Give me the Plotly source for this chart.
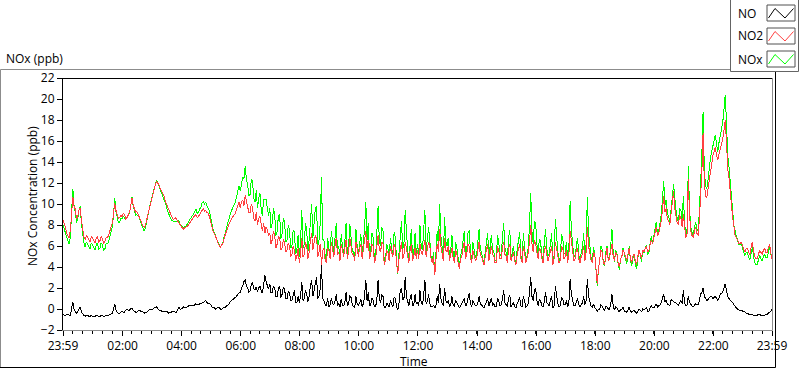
import pandas as pd
import plotly.graph_objects as go

# ---------------- data (2.5-minute samples from 23:59 to 23:59, one row per hour) ----------------
start_time = "2023-12-31 23:59"
sample_step = "150s"

NO2 = [
    8.5, 8.2, 7.8, 7.2, 7.0, 6.8, 7.5, 9.2, 10.7, 9.8, 9.5, 8.6, 8.8, 9.4, 9.6, 8.4, 7.5, 6.9, 6.6, 7.0, 6.8, 6.6, 6.4, 6.9,
    6.8, 6.5, 6.3, 6.7, 6.9, 6.4, 6.5, 6.9, 6.7, 6.3, 6.4, 6.8, 6.8, 7.0, 7.4, 7.8, 8.2, 9.0, 10.1, 9.4, 9.0, 8.6, 8.7, 8.9,
    8.8, 9.1, 9.0, 8.6, 8.7, 9.0, 9.2, 9.8, 10.6, 9.9, 9.5, 9.2, 9.3, 9.0, 8.8, 8.5, 8.2, 7.9, 7.8, 8.0, 8.5, 9.0, 9.6, 10.1,
    10.6, 11.0, 11.3, 11.8, 12.1, 12.0, 11.8, 11.4, 11.2, 11.0, 10.8, 10.3, 10.0, 9.6, 9.4, 9.1, 8.8, 8.6, 8.5, 8.7, 8.6, 8.4, 8.3, 8.1,
    7.9, 7.7, 7.6, 7.8, 7.8, 7.9, 8.0, 8.2, 8.4, 8.6, 8.7, 8.9, 9.0, 8.7, 8.8, 9.0, 9.2, 9.5, 9.6, 9.3, 9.4, 9.2, 9.1, 8.8,
    8.3, 7.8, 7.4, 7.2, 6.9, 6.5, 6.2, 6.0, 5.9, 6.1, 6.3, 6.8, 7.2, 7.5, 7.8, 8.1, 8.4, 8.6, 8.8, 9.0, 9.1, 9.5, 9.9, 10.2,
    9.6, 10.2, 10.4, 9.8, 10.8, 10.2, 9.8, 9.2, 9.2, 10.0, 9.6, 8.6, 8.4, 9.2, 8.0, 8.6, 8.8, 7.8, 7.4, 8.2, 7.2, 7.8, 7.6, 7.0,
    7.2, 6.2, 6.6, 7.4, 7.0, 5.8, 6.2, 6.9, 6.8, 5.6, 5.8, 6.6, 6.4, 5.4, 5.6, 6.3, 6.0, 5.0, 5.2, 6.0, 5.6, 4.6, 5.0, 5.8,
    4.4, 5.2, 6.8, 5.0, 5.2, 6.4, 6.0, 4.8, 5.4, 6.6, 7.2, 5.6, 6.2, 7.0, 6.8, 5.0, 5.4, 6.2, 4.2, 5.6, 5.8, 4.6, 4.4, 5.8,
    5.6, 4.8, 6.4, 5.6, 5.0, 6.0, 6.8, 5.2, 5.4, 4.6, 6.2, 5.6, 5.0, 5.8, 6.6, 4.8, 5.4, 6.8, 6.0, 5.2, 5.2, 4.6, 6.4, 5.4,
    5.0, 5.8, 6.2, 4.8, 5.6, 6.4, 7.4, 5.8, 6.6, 4.8, 5.2, 6.2, 6.0, 4.4, 4.8, 6.0, 7.0, 5.6, 5.4, 6.4, 6.2, 4.2, 4.6, 5.6,
    5.4, 4.6, 6.0, 5.4, 5.0, 6.2, 5.8, 4.4, 3.4, 4.8, 5.6, 6.4, 4.8, 5.2, 6.4, 5.6, 5.0, 4.4, 5.6, 6.2, 4.6, 5.0, 5.8, 4.8,
    5.6, 4.8, 6.2, 5.4, 5.2, 6.0, 6.6, 5.0, 5.8, 6.4, 6.0, 4.8, 4.4, 5.0, 3.2, 4.6, 6.2, 5.4, 7.6, 6.0, 5.2, 4.6, 6.8, 5.6,
    5.4, 6.0, 4.6, 5.2, 5.8, 4.8, 4.4, 5.6, 5.2, 4.4, 3.8, 4.8, 5.0, 5.8, 6.4, 4.8, 5.2, 6.2, 6.0, 5.0, 4.4, 5.6, 5.2, 4.6,
    4.8, 5.6, 6.4, 5.2, 5.0, 4.6, 4.2, 5.0, 5.6, 6.2, 4.6, 5.4, 6.0, 5.2, 5.0, 4.4, 4.4, 6.0, 5.6, 4.8, 4.8, 5.8, 6.4, 5.2,
    5.0, 4.4, 5.8, 6.2, 4.6, 5.0, 5.4, 4.6, 4.2, 5.2, 5.6, 6.2, 4.8, 4.4, 6.0, 5.4, 4.4, 4.8, 5.4, 6.4, 8.0, 6.2, 5.4, 6.6,
    6.2, 5.4, 4.8, 5.8, 5.6, 4.8, 4.4, 5.6, 6.0, 5.2, 4.6, 5.0, 5.4, 6.0, 4.2, 4.8, 6.4, 5.6, 5.0, 4.4, 4.6, 6.0, 5.8, 4.8,
    5.0, 5.6, 4.4, 5.2, 7.4, 6.2, 5.6, 4.6, 4.8, 5.6, 5.8, 4.8, 4.4, 5.0, 5.2, 6.0, 4.6, 5.4, 7.8, 6.0, 5.2, 4.6, 4.4, 5.4,
    5.2, 4.0, 2.4, 3.8, 4.6, 5.6, 5.4, 4.4, 4.2, 5.2, 5.8, 4.6, 4.8, 5.6, 6.2, 5.0, 4.6, 5.4, 5.2, 4.4, 4.0, 4.8, 5.0, 5.6,
    5.4, 5.0, 4.6, 5.2, 5.8, 4.8, 4.4, 5.0, 5.2, 4.6, 4.2, 5.0, 5.6, 5.2, 4.8, 5.6, 5.4, 5.8, 6.0, 5.4, 5.6, 6.2, 6.6, 6.2,
    6.8, 7.4, 7.8, 7.0, 7.2, 7.8, 8.4, 9.4, 10.8, 9.2, 9.6, 8.6, 8.4, 8.0, 9.0, 9.8, 11.2, 9.6, 8.8, 8.2, 8.0, 9.0, 8.6, 7.8,
    9.0, 7.6, 6.8, 7.2, 12.4, 9.0, 7.4, 7.0, 6.8, 7.4, 7.8, 7.2, 7.0, 8.6, 10.6, 13.0, 16.8, 12.0, 10.8, 10.6, 11.4, 12.4, 13.2, 13.8,
    14.6, 15.0, 15.4, 14.6, 14.2, 14.8, 15.2, 15.8, 16.2, 17.0, 18.0, 16.0, 13.4, 12.6, 11.6, 10.0, 8.8, 7.6, 7.0, 6.8, 6.6, 6.2, 6.2, 6.4,
    6.0, 5.6, 5.4, 5.8, 5.8, 5.4, 5.2, 5.8, 6.4, 5.6, 5.0, 4.8, 4.8, 5.2, 5.6, 5.4, 5.2, 5.6, 5.8, 5.4, 5.4, 5.8, 6.2, 5.4,
    4.8,
]

NO = [
    -0.5, -0.6, -0.6, -0.5, -0.5, -0.6, -0.6, 0.1, 0.7, 0.0, -0.3, -0.4, -0.2, 0.0, 0.2, -0.3, -0.5, -0.6, -0.7, -0.6, -0.6, -0.7, -0.7, -0.6,
    -0.7, -0.7, -0.7, -0.6, -0.6, -0.7, -0.7, -0.6, -0.6, -0.7, -0.7, -0.6, -0.6, -0.6, -0.5, -0.5, -0.4, -0.1, 0.5, -0.1, -0.3, -0.4, -0.4, -0.3,
    -0.2, -0.3, -0.3, -0.1, 0.0, -0.1, -0.1, 0.0, 0.1, -0.1, -0.2, -0.3, -0.3, -0.2, -0.1, -0.2, -0.2, -0.3, -0.4, -0.3, -0.3, -0.2, -0.1, 0.0,
    0.0, 0.0, 0.1, 0.1, 0.2, 0.0, -0.1, -0.1, -0.2, -0.2, -0.3, -0.2, -0.2, -0.3, -0.4, -0.3, -0.3, -0.2, -0.2, -0.3, -0.3, -0.1, 0.2, 0.0,
    0.0, 0.1, 0.2, 0.1, 0.1, 0.2, 0.3, 0.3, 0.4, 0.3, 0.3, 0.4, 0.5, 0.4, 0.4, 0.5, 0.5, 0.6, 0.6, 0.7, 0.8, 0.6, 0.5, 0.5,
    0.4, 0.2, 0.1, 0.1, 0.0, 0.1, 0.2, 0.1, 0.0, 0.0, 0.1, 0.1, 0.2, 0.3, 0.4, 0.5, 0.7, 0.8, 0.9, 1.0, 1.1, 1.2, 1.4, 1.5,
    1.6, 2.0, 2.2, 2.6, 2.8, 2.2, 2.0, 1.6, 1.7, 2.4, 2.5, 1.9, 1.8, 2.1, 1.6, 2.0, 2.2, 1.7, 1.5, 2.3, 3.2, 2.6, 2.2, 1.9,
    2.4, 1.5, 1.6, 2.2, 2.0, 1.2, 1.2, 2.0, 2.2, 1.1, 1.4, 2.1, 1.9, 1.0, 1.0, 1.7, 1.5, 0.8, 0.8, 1.5, 1.8, 0.6, 0.6, 1.2,
    0.6, 1.2, 2.6, 0.8, 1.0, 1.8, 1.4, 0.7, 1.2, 2.2, 2.8, 1.2, 1.8, 2.6, 3.0, 1.0, 1.2, 2.0, 4.2, 1.0, 0.8, 0.4, 0.3, 1.0,
    0.2, 0.4, 1.0, 0.5, 0.4, 0.8, 1.4, 0.3, 0.6, 0.2, 0.9, 0.4, 0.3, 0.7, 1.6, 0.3, 0.5, 1.3, 1.1, 0.4, 0.2, 0.1, 1.2, 0.5,
    0.3, 0.6, 0.9, 0.2, 0.5, 1.2, 2.8, 0.8, 1.6, 0.3, 0.4, 1.0, 0.8, 0.2, 0.2, 1.0, 2.8, 0.9, 0.6, 1.4, 1.2, 0.1, 0.1, 0.6,
    0.4, 0.2, 0.8, 0.4, 0.2, 1.1, 1.0, 0.2, -0.1, 0.6, 1.8, 2.0, 0.9, 1.0, 3.0, 1.2, 0.6, 0.3, 1.0, 1.4, 0.3, 0.4, 1.4, 0.5,
    0.6, 0.3, 1.8, 0.6, 0.4, 1.2, 2.8, 0.5, 0.7, 1.4, 0.5, 0.2, 0.2, 0.4, 0.1, 0.3, 1.2, 0.6, 2.4, 1.0, 0.5, 0.3, 2.0, 0.8,
    0.6, 0.8, 0.2, 0.4, 1.2, 0.4, 0.3, 0.8, 0.6, 0.3, 0.1, 0.3, 0.5, 0.7, 1.0, 0.3, 0.4, 1.0, 1.5, 0.5, 0.2, 0.8, 0.6, 0.3,
    0.3, 0.6, 1.2, 0.5, 0.4, 0.2, 0.1, 0.4, 0.7, 1.0, 0.3, 0.6, 1.0, 0.4, 0.5, 0.2, 0.2, 1.0, 0.8, 0.3, 0.4, 0.9, 1.8, 0.6,
    0.4, 0.2, 1.0, 1.3, 0.2, 0.4, 0.6, 0.2, 0.1, 0.5, 0.8, 1.1, 0.3, 0.2, 1.2, 0.6, 0.2, 0.3, 0.5, 1.6, 3.0, 1.2, 0.8, 1.8,
    2.0, 0.8, 0.3, 0.9, 0.8, 0.3, 0.2, 0.7, 1.6, 0.6, 0.4, 0.3, 0.9, 1.2, 0.1, 0.3, 2.2, 1.0, 0.5, 0.2, 0.3, 1.1, 1.0, 0.4,
    0.4, 0.8, 0.2, 0.6, 2.9, 1.4, 0.8, 0.3, 0.3, 0.7, 1.0, 0.4, 0.2, 0.4, 0.6, 1.2, 0.4, 0.8, 2.9, 1.2, 0.8, 0.3, 0.2, 0.5,
    0.1, 0.0, -0.2, 0.0, 0.0, 0.4, 0.3, 0.0, -0.1, 0.2, 0.2, 0.0, 0.0, 0.5, 1.4, 0.3, -0.1, 0.2, 0.1, -0.1, -0.3, 0.0, 0.0, 0.2,
    -0.2, -0.2, -0.3, -0.1, 0.2, -0.2, -0.3, -0.2, -0.1, -0.3, -0.4, -0.2, 0.0, -0.1, -0.3, 0.0, -0.1, 0.0, 0.1, -0.2, -0.2, 0.1, 0.3, 0.1,
    0.1, 0.3, 0.5, 0.2, 0.3, 0.4, 0.6, 1.0, 1.4, 0.7, 0.8, 0.5, 0.4, 0.3, 0.9, 0.8, 0.7, 0.6, 0.6, 0.4, 0.3, 0.6, 0.8, 0.5,
    1.8, 0.6, 0.3, 0.4, 1.2, 0.6, 0.4, 0.3, 0.2, 0.4, 0.5, 0.4, 0.4, 0.8, 1.4, 1.6, 2.0, 1.2, 1.0, 0.8, 0.9, 1.1, 1.2, 1.2,
    1.0, 1.1, 1.2, 1.0, 0.8, 1.1, 1.4, 1.5, 1.6, 2.0, 2.4, 1.8, 1.2, 1.0, 0.8, 0.7, 0.6, 0.4, 0.3, 0.1, 0.0, -0.1, -0.1, -0.1,
    -0.2, -0.2, -0.3, -0.4, -0.4, -0.5, -0.5, -0.5, -0.5, -0.6, -0.6, -0.6, -0.6, -0.5, -0.5, -0.6, -0.6, -0.6, -0.6, -0.5, -0.5, -0.4, -0.3, -0.2,
    0.0,
]

NOx = [
    8.0, 7.6, 7.2, 6.7, 6.5, 6.2, 6.9, 9.3, 11.4, 9.8, 9.2, 8.2, 8.6, 9.4, 9.8, 8.1, 7.0, 6.3, 5.9, 6.4, 6.2, 5.9, 5.7, 6.3,
    6.1, 5.8, 5.6, 6.1, 6.3, 5.7, 5.8, 6.3, 6.1, 5.6, 5.7, 6.2, 6.2, 6.4, 6.9, 7.3, 7.8, 8.9, 10.6, 9.3, 8.7, 8.2, 8.3, 8.6,
    8.6, 8.8, 8.7, 8.5, 8.7, 8.9, 9.1, 9.8, 10.7, 9.8, 9.3, 8.9, 9.0, 8.8, 8.7, 8.3, 8.0, 7.6, 7.4, 7.7, 8.2, 8.8, 9.5, 10.1,
    10.6, 11.0, 11.4, 11.9, 12.3, 12.0, 11.7, 11.3, 11.0, 10.8, 10.5, 10.1, 9.8, 9.3, 9.0, 8.8, 8.5, 8.4, 8.3, 8.4, 8.3, 8.3, 8.5, 8.1,
    7.9, 7.8, 7.8, 7.9, 7.9, 8.1, 8.3, 8.5, 8.8, 8.9, 9.0, 9.3, 9.5, 9.1, 9.2, 9.5, 9.7, 10.1, 10.2, 10.0, 10.2, 9.8, 9.6, 9.3,
    8.7, 8.0, 7.5, 7.3, 6.9, 6.6, 6.4, 6.1, 5.9, 6.1, 6.4, 6.9, 7.4, 7.8, 8.2, 8.6, 9.1, 9.4, 9.7, 10.0, 10.2, 10.7, 11.3, 11.7,
    11.2, 12.2, 12.6, 12.4, 13.6, 12.4, 11.8, 10.8, 10.9, 12.4, 12.1, 10.5, 10.2, 11.3, 9.6, 10.6, 11.0, 9.5, 8.9, 10.5, 10.4, 10.4, 9.8, 8.9,
    9.6, 7.7, 8.2, 9.6, 9.0, 7.0, 7.4, 8.9, 9.0, 6.7, 7.2, 8.7, 8.3, 6.4, 6.6, 8.0, 7.5, 5.8, 6.0, 7.5, 7.4, 5.2, 5.6, 7.0,
    5.0, 6.4, 9.4, 5.8, 6.2, 8.2, 7.4, 5.5, 6.6, 8.8, 10.0, 6.8, 8.0, 9.6, 9.8, 6.0, 6.6, 8.2, 12.6, 6.6, 6.6, 5.0, 4.7, 6.8,
    5.8, 5.2, 7.4, 6.1, 5.4, 6.8, 8.2, 5.5, 6.0, 4.8, 7.1, 6.0, 5.3, 6.5, 8.2, 5.1, 5.9, 8.1, 7.1, 5.6, 5.4, 4.7, 7.6, 5.9,
    5.3, 6.4, 7.1, 5.0, 6.1, 7.6, 10.2, 6.6, 8.2, 5.1, 5.6, 7.2, 6.8, 4.6, 5.0, 7.0, 9.8, 6.5, 6.0, 7.8, 7.4, 4.3, 4.7, 6.2,
    5.8, 4.8, 6.8, 5.8, 5.2, 7.3, 6.8, 4.6, 3.3, 5.4, 7.4, 8.4, 5.7, 6.2, 9.4, 6.8, 5.6, 4.7, 6.6, 7.6, 4.9, 5.4, 7.2, 5.3,
    6.2, 5.1, 8.0, 6.0, 5.6, 7.2, 9.4, 5.5, 6.5, 7.8, 6.5, 5.0, 4.6, 5.4, 3.3, 4.9, 7.4, 6.0, 10.0, 7.0, 5.7, 4.9, 8.8, 6.4,
    6.0, 6.8, 4.8, 5.6, 7.0, 5.2, 4.7, 6.4, 5.8, 4.7, 3.9, 5.1, 5.5, 6.5, 7.4, 5.1, 5.6, 7.2, 7.5, 5.5, 4.6, 6.4, 5.8, 4.9,
    5.1, 6.2, 7.6, 5.7, 5.4, 4.8, 4.3, 5.4, 6.3, 7.2, 4.9, 6.0, 7.0, 5.6, 5.5, 4.6, 4.6, 7.0, 6.4, 5.1, 5.2, 6.7, 8.2, 5.8,
    5.4, 4.6, 6.8, 7.5, 4.8, 5.4, 6.0, 4.8, 4.3, 5.7, 6.4, 7.3, 5.1, 4.6, 7.2, 6.0, 4.6, 5.1, 5.9, 8.0, 11.0, 7.4, 6.2, 8.4,
    8.2, 6.2, 5.1, 6.7, 6.4, 5.1, 4.6, 6.3, 7.6, 5.8, 5.0, 5.3, 6.3, 7.2, 4.3, 5.1, 8.6, 6.6, 5.5, 4.6, 4.9, 7.1, 6.8, 5.2,
    5.4, 6.4, 4.6, 5.8, 10.3, 7.6, 6.4, 4.9, 5.1, 6.3, 6.8, 5.2, 4.6, 5.4, 5.8, 7.2, 5.0, 6.2, 10.7, 7.2, 6.0, 4.9, 4.6, 5.9,
    5.3, 4.0, 2.2, 3.8, 4.6, 6.0, 5.7, 4.4, 4.1, 5.4, 6.0, 4.6, 4.8, 6.1, 7.6, 5.3, 4.5, 5.6, 5.3, 4.3, 3.7, 4.8, 5.0, 5.8,
    5.2, 4.8, 4.3, 5.1, 6.0, 4.6, 4.1, 4.8, 5.1, 4.3, 3.8, 4.8, 5.6, 5.1, 4.5, 5.6, 5.3, 5.8, 6.1, 5.2, 5.4, 6.3, 6.9, 6.3,
    6.9, 7.7, 8.3, 7.2, 7.5, 8.2, 9.0, 10.4, 12.2, 9.9, 10.4, 9.1, 8.8, 8.3, 9.9, 10.6, 11.9, 10.2, 9.4, 8.6, 8.3, 9.6, 9.4, 8.3,
    10.8, 8.2, 7.1, 7.6, 13.6, 9.6, 7.8, 7.3, 7.0, 7.8, 8.3, 7.6, 7.4, 9.4, 12.0, 14.6, 18.8, 13.2, 11.8, 11.4, 12.3, 13.5, 14.4, 15.0,
    15.6, 16.1, 16.6, 15.6, 15.0, 15.9, 16.6, 17.3, 17.8, 19.0, 20.4, 17.8, 14.6, 13.6, 12.4, 10.7, 9.4, 8.0, 7.3, 6.9, 6.6, 6.1, 6.1, 6.3,
    5.8, 5.4, 5.1, 5.4, 5.4, 4.9, 4.7, 5.3, 5.9, 5.0, 4.4, 4.2, 4.2, 4.7, 5.1, 4.8, 4.6, 5.0, 5.2, 4.9, 4.9, 5.4, 5.9, 5.2,
    4.8,
]

x_tick_times = ["2023-12-31 23:59", "2024-01-01 02:00", "2024-01-01 04:00",
                "2024-01-01 06:00", "2024-01-01 08:00", "2024-01-01 10:00",
                "2024-01-01 12:00", "2024-01-01 14:00", "2024-01-01 16:00",
                "2024-01-01 18:00", "2024-01-01 20:00", "2024-01-01 22:00",
                "2024-01-01 23:59"]
x_tick_labels = ["23:59", "02:00", "04:00", "06:00", "08:00", "10:00", "12:00",
                 "14:00", "16:00", "18:00", "20:00", "22:00", "23:59"]
y_ticks = list(range(-2, 23, 2))

series_names = ["NO", "NO2", "NOx"]
series_colors = {"NO": "#000000", "NO2": "#FF4040", "NOx": "#00FF00"}

# ---------------- figure ----------------
W, H = 800, 369
L, R, T, B = 63, 772, 78, 330


def fx(px):
    return (px - L) / (R - L)


def fy(py):
    return (B - py) / (B - T)


FONT = "Open Sans, Noto Sans, sans-serif"

fig = go.Figure()
for name, vals in (("NOx", NOx), ("NO2", NO2), ("NO", NO)):
    t = pd.date_range(start=start_time, periods=len(vals), freq=sample_step)
    fig.add_trace(go.Scatter(x=t, y=vals, mode="lines", name=name,
                             line=dict(color=series_colors[name], width=1),
                             showlegend=False, hoverinfo="skip"))

fig.update_layout(
    width=W, height=H,
    margin=dict(l=L, r=W - R, t=T, b=H - B, pad=0),
    paper_bgcolor="white", plot_bgcolor="white",
    font=dict(family=FONT, size=12, color="#000000"),
    xaxis=dict(
        type="date", range=[x_tick_times[0], x_tick_times[-1]],
        tickmode="array", tickvals=x_tick_times, ticktext=x_tick_labels,
        ticks="outside", ticklen=5, tickwidth=1, tickcolor="#000000",
        showgrid=False, zeroline=False, showline=False,
        tickfont=dict(family=FONT, size=12, color="#000000"),
        minor=dict(ticks="outside", ticklen=3, tickwidth=1, tickcolor="#000000",
                   tickmode="linear", tick0=x_tick_times[0], dtick=20 * 60 * 1000,
                   showgrid=False),
    ),
    yaxis=dict(
        range=[-2, 22], tickmode="array", tickvals=y_ticks,
        ticks="outside", ticklen=5, tickwidth=1, tickcolor="#000000",
        showgrid=False, zeroline=False, showline=False,
        tickfont=dict(family=FONT, size=12, color="#000000"),
    ),
)

shapes = []


def line(x0, y0, x1, y1, color, width=1):
    shapes.append(dict(type="line", xref="paper", yref="paper",
                       x0=fx(x0), y0=fy(y0), x1=fx(x1), y1=fy(y1),
                       line=dict(color=color, width=width), layer="above"))


# outer panel
line(0.5, 69.5, 730, 69.5, "#8c8c8c")
line(0.5, 69.5, 0.5, 367.5, "#8c8c8c")
line(0, 367.5, 775.5, 367.5, "#000000")
line(775.5, 71.5, 775.5, 367.5, "#000000")
# plot frame
line(62.5, 78.5, 772, 78.5, "#000000")
line(62.5, 78, 62.5, 330.5, "#000000")
line(772.5, 78, 772.5, 330.5, "#8c8c8c")
line(62.5, 330.5, 772.5, 330.5, "#8c8c8c")

# legend box
shapes.append(dict(type="rect", xref="paper", yref="paper",
                   x0=fx(730.5), y0=fy(-2), x1=fx(798.5), y1=fy(71.5),
                   line=dict(color="#646464", width=1), fillcolor="white", layer="above"))

annotations = []
row_centers = [13, 36, 59]
for name, cy in zip(series_names, row_centers):
    annotations.append(dict(xref="paper", yref="paper", x=fx(736), y=fy(cy),
                            xanchor="left", yanchor="middle", showarrow=False,
                            text=name, font=dict(family=FONT, size=12, color="#000000")))
    shapes.append(dict(type="rect", xref="paper", yref="paper",
                       x0=fx(767), y0=fy(cy - 8), x1=fx(795), y1=fy(cy + 8),
                       line=dict(color="#505050", width=1), fillcolor="white", layer="above"))
    pts = [(768.5, cy + 5), (775, cy - 4.5), (785, cy + 5), (793.5, cy - 4.5)]
    path = "M " + " L ".join(f"{fx(a):.5f},{fy(b):.5f}" for a, b in pts)
    shapes.append(dict(type="path", xref="paper", yref="paper", path=path,
                       line=dict(color=series_colors[name], width=1), layer="above"))

# titles
annotations.append(dict(xref="paper", yref="paper", x=fx(4), y=fy(58),
                        xanchor="left", yanchor="middle", showarrow=False,
                        text="NOx (ppb)", font=dict(family=FONT, size=12, color="#000000")))
annotations.append(dict(xref="paper", yref="paper", x=fx(32), y=fy(196),
                        xanchor="center", yanchor="middle", showarrow=False, textangle=-90,
                        text="NOx Concentration (ppb)",
                        font=dict(family=FONT, size=12, color="#000000")))
annotations.append(dict(xref="paper", yref="paper", x=fx(414), y=fy(361),
                        xanchor="center", yanchor="middle", showarrow=False,
                        text="Time", font=dict(family=FONT, size=12, color="#000000")))

fig.update_layout(shapes=shapes, annotations=annotations)
fig.write_html("out.html", config={"displayModeBar": False},
               post_script="document.body.style.margin='0';document.body.style.padding='0';"
                           "document.documentElement.style.overflow='hidden';"
                           "document.querySelectorAll('.scatterlayer path.js-line')"
                           ".forEach(function(p){p.style.shapeRendering='crispEdges';});")
